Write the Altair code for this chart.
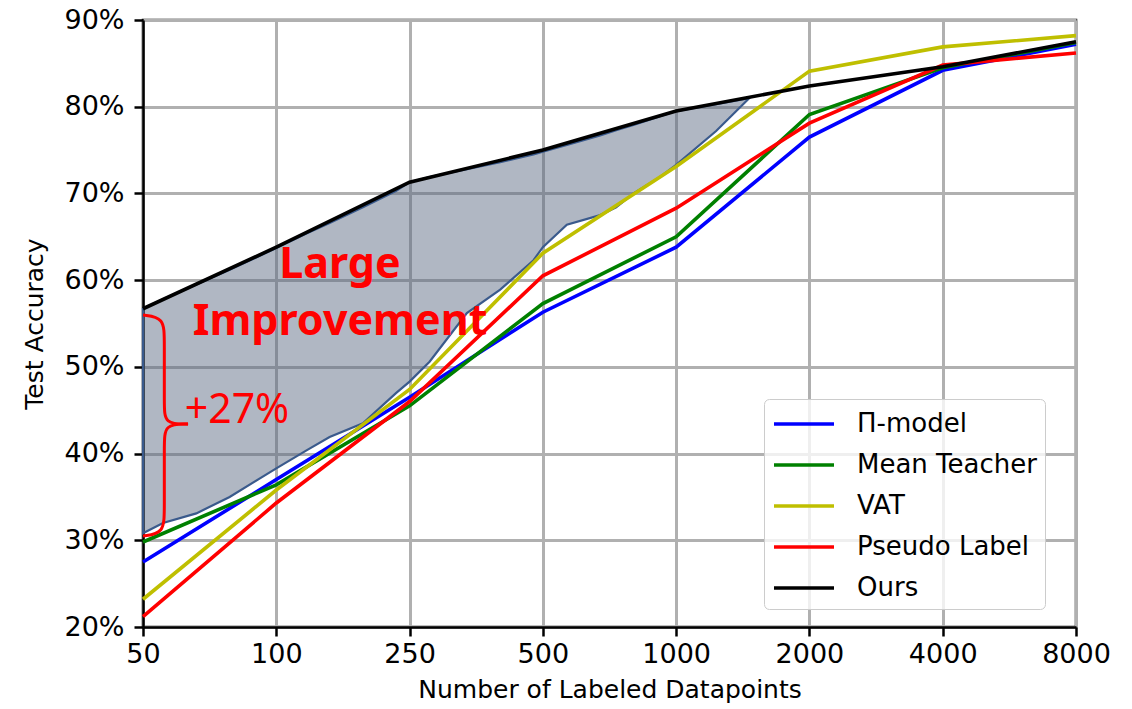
import altair as alt
import pandas as pd

# ---------------- data ----------------
x_labels = ["50", "100", "250", "500", "1000", "2000", "4000", "8000"]
series_names = ["Π-model", "Mean Teacher", "VAT", "Pseudo Label", "Ours"]
series_colors = ["#0000ff", "#008000", "#bfbf00", "#ff0000", "#000000"]

pi_model = [27.5, 37.0, 46.5, 56.3, 63.8, 76.5, 84.2, 87.2]
mean_teacher = [29.8, 36.4, 45.5, 57.3, 65.0, 79.1, 84.5, 87.4]
vat = [23.2, 35.8, 47.4, 63.1, 73.1, 84.1, 86.9, 88.2]
pseudo_label = [21.2, 34.3, 46.0, 60.5, 68.3, 78.1, 84.8, 86.2]
ours = [56.7, 63.8, 71.3, 75.0, 79.5, 82.4, 84.6, 87.5]

# shaded "improvement" region (position along the category axis, lower / upper edge in %)
shade_pos = [0, 0.15, 0.4, 0.65, 1.0, 1.23, 1.4, 1.65, 1.9, 2.0, 2.15, 2.43, 2.68,
             2.93, 3.0, 3.18, 3.43, 3.55, 3.68, 3.88, 4.0, 4.3, 4.55]
shade_lower = [30.8, 32.0, 33.1, 35.0, 38.3, 40.4, 41.9, 43.5, 47.0, 48.3, 50.6, 56.2, 58.9,
               62.3, 63.8, 66.4, 67.5, 68.4, 70.0, 71.9, 73.3, 77.2, 81.0]
shade_upper = [56.7, 57.8, 59.5, 61.2, 63.7, 65.4, 66.6, 68.4, 70.3, 71.3, 71.9, 72.8, 73.6,
               74.5, 74.8, 75.6, 76.7, 77.3, 77.9, 78.9, 79.5, 80.3, 81.0]

# curly brace (two halves meeting at the tip)
brace_half = ["top"] * 6 + ["bottom"] * 6
brace_pos = [0, 0.16, 0.16, 0.16, 0.16, 0.338, 0, 0.16, 0.16, 0.16, 0.16, 0.338]
brace_val = [55.98, 55.7, 53.0, 45.6, 43.41, 43.41, 30.49, 30.8, 33.6, 40.99, 43.41, 43.41]

# annotation texts
ann_text = ["Large", "Improvement", "+27%"]
ann_pos = [1.478, 1.478, 0.705]
ann_val = [60.25, 53.68, 43.53]
ann_weight = ["bold", "bold", "normal"]

FONT = "DejaVu Sans"
ANN_FONT = "Noto Sans"

# ---------------- tables ----------------
rows = []
for name, vals in zip(series_names, [pi_model, mean_teacher, vat, pseudo_label, ours]):
    for i, v in enumerate(vals):
        rows.append({"series": name, "pos": i, "acc": v, "k": i})
lines_df = pd.DataFrame(rows)

shade_df = pd.DataFrame({"pos": shade_pos, "lo": shade_lower, "hi": shade_upper})
brace_df = pd.DataFrame({"half": brace_half, "pos": brace_pos, "val": brace_val,
                         "k": list(range(len(brace_pos)))})
ann_df = pd.DataFrame({"text": ann_text, "pos": ann_pos, "val": ann_val,
                       "weight": ann_weight})

label_expr = "[" + ",".join("'" + s + "'" for s in x_labels) + "][datum.value]"

x_scale = alt.Scale(domain=[0, len(x_labels) - 1], nice=False, zero=False)
y_scale = alt.Scale(domain=[20, 90], nice=False, zero=False)

x_axis = alt.Axis(values=list(range(len(x_labels))), labelExpr=label_expr,
                  labelFlush=False, title="Number of Labeled Datapoints")
y_axis = alt.Axis(values=[20, 30, 40, 50, 60, 70, 80, 90], labelFlush=False,
                  labelExpr="datum.value + '%'", title="Test Accuracy")

shade = alt.Chart(shade_df).mark_area(
    fill="#576680", fillOpacity=0.47, stroke="#3a5a8c", strokeWidth=2.2, strokeOpacity=1
).encode(
    x=alt.X("pos:Q", scale=x_scale, axis=x_axis),
    y=alt.Y("lo:Q", scale=y_scale, axis=y_axis),
    y2="hi:Q",
)

lines = alt.Chart(lines_df).mark_line(strokeWidth=3.6).encode(
    x=alt.X("pos:Q", scale=x_scale),
    y=alt.Y("acc:Q", scale=y_scale),
    color=alt.Color("series:N",
                    scale=alt.Scale(domain=series_names, range=series_colors),
                    sort=series_names,
                    title=None),
    order="k:Q",
)

brace = alt.Chart(brace_df).mark_line(color="#ff0000", strokeWidth=3,
                                      interpolate="basis").encode(
    x=alt.X("pos:Q", scale=x_scale),
    y=alt.Y("val:Q", scale=y_scale),
    detail="half:N",
    order="k:Q",
)

ann_bold = alt.Chart(ann_df[ann_df["weight"] == "bold"]).mark_text(
    color="#ff0000", font=ANN_FONT, fontWeight="bold", fontSize=43,
    align="center", baseline="alphabetic"
).encode(
    x=alt.X("pos:Q", scale=x_scale),
    y=alt.Y("val:Q", scale=y_scale),
    text="text:N",
)
ann_norm = alt.Chart(ann_df[ann_df["weight"] == "normal"]).mark_text(
    color="#ff0000", font=ANN_FONT, fontWeight="normal", fontSize=41,
    align="center", baseline="alphabetic"
).encode(
    x=alt.X("pos:Q", scale=x_scale),
    y=alt.Y("val:Q", scale=y_scale),
    text="text:N",
)

chart = alt.layer(shade, lines, brace, ann_bold, ann_norm).properties(
    width=933, height=607,
    autosize=alt.AutoSizeParams(type="none"),
    padding={"left": 143, "top": 20, "right": 56, "bottom": 82},
).configure_view(
    stroke="#000000", strokeWidth=2.5
).configure_axis(
    labelFont=FONT, titleFont=FONT, labelFontSize=27, titleFontSize=25,
    labelColor="#000000", titleColor="#000000", titleFontWeight="normal",
    domainColor="#000000", domainWidth=2.5,
    tickColor="#000000", tickWidth=2.5, tickSize=9,
    gridColor="#b0b0b0", gridWidth=3, grid=True,
).configure_axisX(
    labelPadding=5, titlePadding=10,
).configure_axisY(
    labelPadding=10, titlePadding=16,
).configure_legend(
    orient="none", legendX=621, legendY=379,
    fillColor="rgba(255,255,255,0.8)", strokeColor="#cccccc", cornerRadius=5,
    padding=8, symbolType="M-1,0H3", symbolSize=900, symbolStrokeWidth=3.6,
    labelFont=FONT, labelFontSize=26, labelColor="#000000", labelOffset=51,
    rowPadding=11, labelLimit=400,
)

chart.save("out.html", embed_options={"renderer": "svg", "actions": False})
